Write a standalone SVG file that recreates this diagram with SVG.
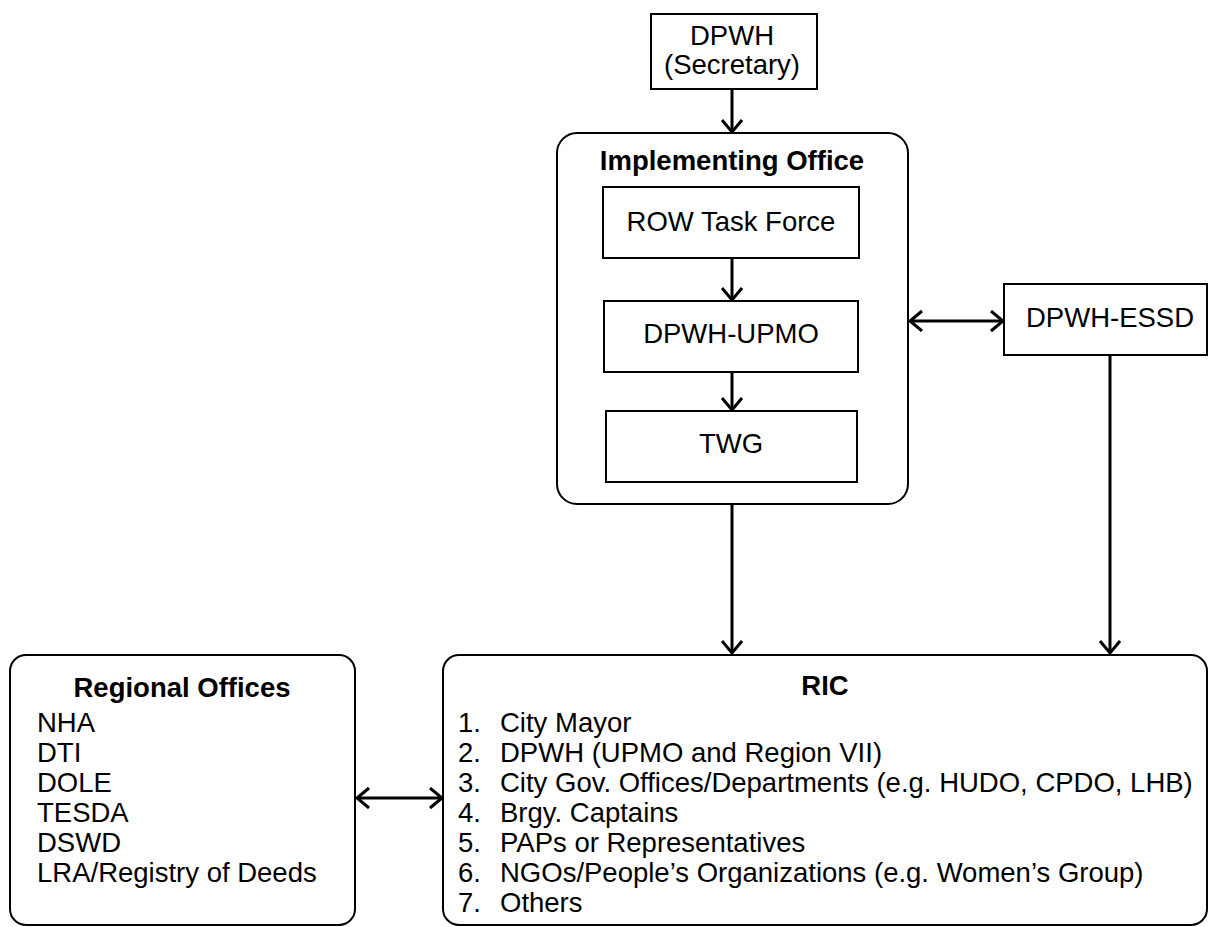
<svg xmlns="http://www.w3.org/2000/svg" width="1208" height="927" viewBox="0 0 1208 927">
<style>
text{font-family:"Liberation Sans",Arial,sans-serif;font-size:27.5px;fill:#000}
.b{font-weight:bold}
.c{text-anchor:middle}
.box{fill:#fff;stroke:#000;stroke-width:2}
.con{fill:none;stroke:#000;stroke-width:3}
</style>
<defs>
<marker id="arr" markerWidth="16" markerHeight="24" refX="13" refY="11" orient="auto-start-reverse" markerUnits="userSpaceOnUse" viewBox="0 0 16 24">
<path d="M1,1 L13,11 L1,21" fill="none" stroke="#000" stroke-width="3"/>
</marker>
</defs>
<rect width="1208" height="927" fill="#fff"/>
<g id="secretary">
<rect class="box" x="651" y="14" width="166" height="75"/>
<text class="c" x="732" y="45">DPWH</text>
<text class="c" x="732" y="74">(Secretary)</text>
</g>
<g id="implementing-office">
<rect class="box" x="557" y="133" width="351" height="371" rx="20" ry="20"/>
<text class="c b" x="732" y="170">Implementing Office</text>
</g>
<g id="row-task-force">
<rect class="box" x="603" y="187" width="256" height="71"/>
<text class="c" x="731" y="231">ROW Task Force</text>
</g>
<g id="dpwh-upmo">
<rect class="box" x="604" y="301" width="254" height="71"/>
<text class="c" x="731" y="343">DPWH-UPMO</text>
</g>
<g id="twg">
<rect class="box" x="606" y="411" width="251" height="71"/>
<text class="c" x="731" y="453">TWG</text>
</g>
<g id="dpwh-essd">
<rect class="box" x="1004" y="284" width="203" height="71"/>
<text class="c" x="1110" y="327">DPWH-ESSD</text>
</g>
<g id="regional-offices">
<rect class="box" x="10" y="655" width="345" height="270" rx="16" ry="16"/>
<text class="c b" x="182" y="697">Regional Offices</text>
<text x="37" y="732">NHA</text>
<text x="37" y="762">DTI</text>
<text x="37" y="792">DOLE</text>
<text x="37" y="822">TESDA</text>
<text x="37" y="852">DSWD</text>
<text x="37" y="882">LRA/Registry of Deeds</text>
</g>
<g id="ric">
<rect class="box" x="443" y="655" width="764" height="270" rx="16" ry="16"/>
<text class="c b" x="825" y="695">RIC</text>
<text x="458" y="732">1.</text><text x="500" y="732">City Mayor</text>
<text x="458" y="762">2.</text><text x="500" y="762">DPWH (UPMO and Region VII)</text>
<text x="458" y="792">3.</text><text x="500" y="792">City Gov. Offices/Departments (e.g. HUDO, CPDO, LHB)</text>
<text x="458" y="822">4.</text><text x="500" y="822">Brgy. Captains</text>
<text x="458" y="852">5.</text><text x="500" y="852">PAPs or Representatives</text>
<text x="458" y="882">6.</text><text x="500" y="882">NGOs/People’s Organizations (e.g. Women’s Group)</text>
<text x="458" y="912">7.</text><text x="500" y="912">Others</text>
</g>
<g id="connectors">
<line class="con" x1="732" y1="89" x2="732" y2="132" marker-end="url(#arr)"/>
<line class="con" x1="732" y1="258" x2="732" y2="300" marker-end="url(#arr)"/>
<line class="con" x1="732" y1="372" x2="732" y2="410" marker-end="url(#arr)"/>
<line class="con" x1="910" y1="321" x2="1003" y2="321" marker-start="url(#arr)" marker-end="url(#arr)"/>
<line class="con" x1="732" y1="504" x2="732" y2="653" marker-end="url(#arr)"/>
<line class="con" x1="1110" y1="355" x2="1110" y2="653" marker-end="url(#arr)"/>
<line class="con" x1="357" y1="798" x2="442" y2="798" marker-start="url(#arr)" marker-end="url(#arr)"/>
</g>
</svg>
